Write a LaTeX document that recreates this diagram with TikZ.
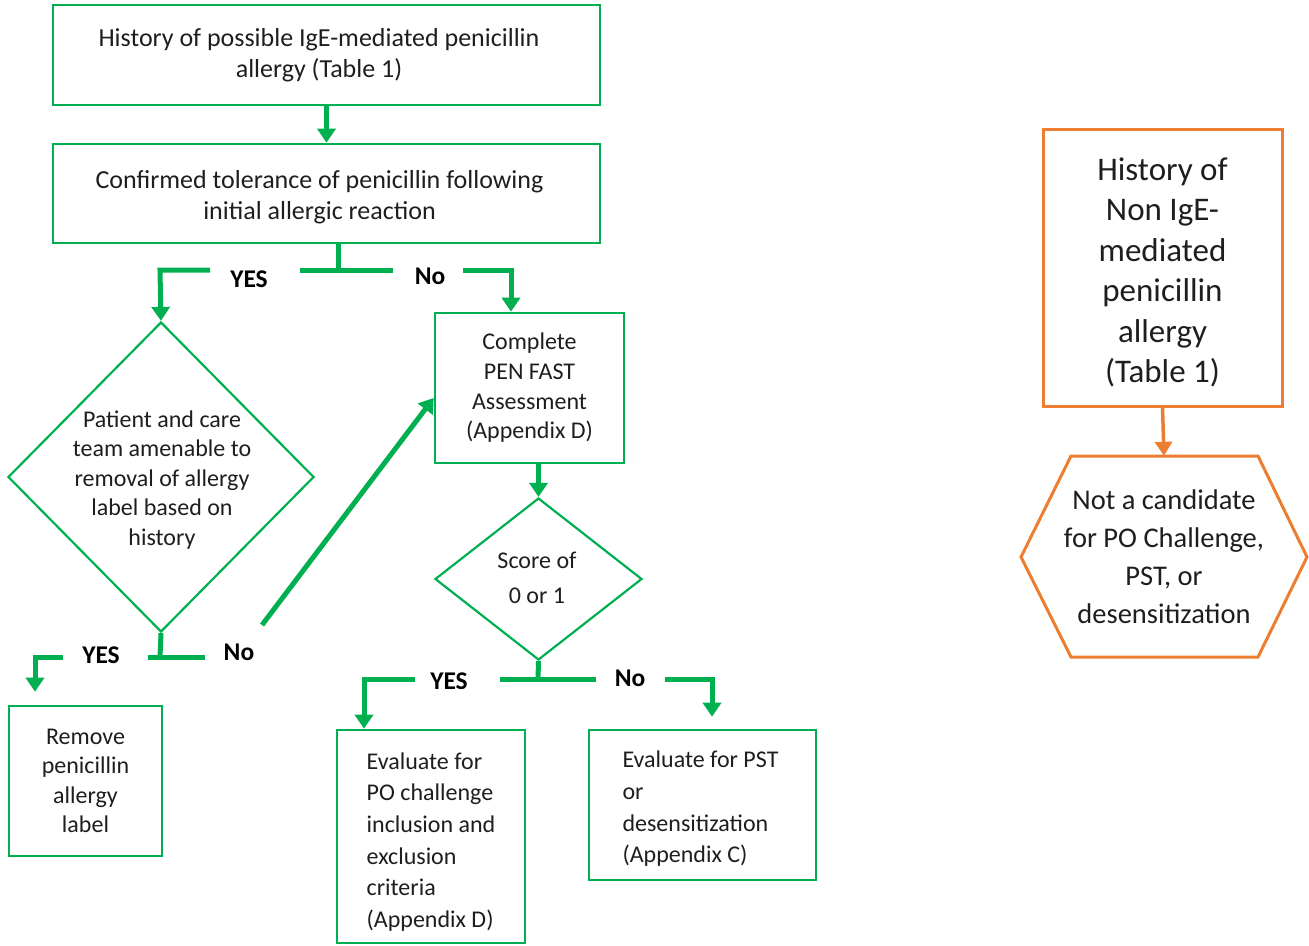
\documentclass[tikz,border=0pt]{standalone}
\usepackage{fontspec}
\setmainfont{Carlito}
\usetikzlibrary{arrows.meta,shapes.geometric,calc}
\definecolor{gr}{RGB}{0,176,80}
\definecolor{org}{RGB}{237,125,49}
\definecolor{txt}{RGB}{30,30,30}
\begin{document}
\begin{tikzpicture}[x=1pt,y=-1pt,
  gbox/.style={draw=gr, line width=2.6pt, inner sep=0pt, text=txt, align=center,
               font=\fontsize{24}{29.7}\selectfont},
  btext/.style={text=txt, inner sep=0pt, align=center, font=\fontsize{26}{31}\selectfont},
  ltext/.style={text=txt, inner sep=0pt, font=\fontsize{24}{31.6}\selectfont},
  gdia/.style={diamond, draw=gr, line width=2.2pt, inner sep=0pt},
  dtext/.style={text=txt, align=center, font=\fontsize{24}{29.5}\selectfont},
  gline/.style={draw=gr, line width=5pt},
  garrow/.style={gline, -{Triangle[length=14pt,width=18pt]}},
  lbl/.style={text=black, font=\fontsize{25.5}{28}\bfseries\selectfont, inner sep=0pt},
  obox/.style={draw=org, line width=3pt, inner sep=0pt},
  oarrow/.style={draw=org, line width=3.5pt, -{Triangle[length=14pt,width=17pt]}}
]
\useasboundingbox (0,0) rectangle (1309,945);

% green boxes
\node[gbox, minimum width=547, minimum height=100] (b1) at (326.5,55) {};
\node[btext] (b1t) at (319,55) {History of possible IgE-mediated penicillin\\allergy (Table 1)};
\node[gbox, minimum width=547, minimum height=99] (b2) at (326.5,193.5) {};
\node[btext] (b2t) at (319.5,197) {Confirmed tolerance of penicillin following\\initial allergic reaction};
\node[gbox, minimum width=189, minimum height=150] (b3) at (529.5,388)
  {Complete\\PEN FAST\\Assessment\\(Appendix D)};
\node[gbox, minimum width=153, minimum height=150, font=\fontsize{24}{29.4}\selectfont] (b4) at (85.5,781)
  {Remove\\penicillin\\allergy\\label};
\node[gbox, minimum width=188, minimum height=213] (b5) at (431,836.5) {};
\node[ltext] (b5t) at (431,842)
  {\begin{tabular}{@{}l@{}}Evaluate for\\PO challenge\\inclusion and\\exclusion\\criteria\\(Appendix D)\end{tabular}};
\node[gbox, minimum width=227, minimum height=150] (b6) at (702.5,805) {};
\node[ltext] (b6t) at (700.5,809)
  {\begin{tabular}{@{}l@{}}Evaluate for PST\\or\\desensitization\\(Appendix C)\end{tabular}};

% diamonds
\node[gdia, minimum width=306, minimum height=310] (d1) at (161,477) {};
\node[dtext] (d1t) at (162,480) {Patient and care\\team amenable to\\removal of allergy\\label based on\\history};
\node[gdia, minimum width=207, minimum height=162] (d2) at (538.5,579) {};
\node[dtext, font=\fontsize{24}{35}\selectfont] (d2t) at (537,578) {Score of\\0 or 1};

% connectors
\draw[garrow] (b1.south) -- (b2.north);

% first decision (after b2)
\coordinate (j1) at (338,270);
\coordinate (t1l) at (300,270);
\coordinate (t1r) at (393,270);
\coordinate (a1) at (210,270);
\coordinate (c1) at (160,270);
\coordinate (a2) at (463,270);
\coordinate (c2) at (511,270);
\draw[gline] (j1 |- b2.south) -- (j1);
\draw[gline] (t1l) -- (t1r);
\draw[garrow] (a1) -- (c1) -- (d1.north);
\draw[garrow] (a2) -- (c2) -- (c2 |- b3.north);
\node[lbl] (y1) at (249,279) {YES};
\node[lbl] (n1) at (430,276) {No};

% second decision (after d1)
\coordinate (j2) at (160,657);
\coordinate (t2l) at (148,657);
\coordinate (t2r) at (205,657);
\coordinate (a3) at (63,657);
\coordinate (c3) at (35,657);
\coordinate (c5) at (262,625);
\draw[gline] (d1.south) -- (j2);
\draw[gline] (t2l) -- (t2r);
\draw[garrow, shorten >=13pt] (a3) -- (c3) -- (c3 |- b4.north);
\node[lbl] (y2) at (101,655) {YES};
\node[lbl] (n2) at (239,652) {No};
\draw[garrow] (c5) -- ($(b3.west)+(0,10)$);

\draw[garrow] (d2.north |- b3.south) -- (d2.north);

% third decision (after d2)
\coordinate (j3) at (538,679);
\coordinate (t3l) at (500,679);
\coordinate (t3r) at (596,679);
\coordinate (a4) at (415,679);
\coordinate (c6) at (364,679);
\coordinate (a5) at (665,679);
\coordinate (c7) at (712,679);
\draw[gline] (d2.south) -- (j3);
\draw[gline] (t3l) -- (t3r);
\draw[garrow] (a4) -- (c6) -- (c6 |- b5.north);
\draw[garrow, shorten >=12pt] (a5) -- (c7) -- (c7 |- b6.north);
\node[lbl] (y3) at (449,681) {YES};
\node[lbl] (n3) at (630,678) {No};

% orange part
\node[obox, minimum width=239, minimum height=277] (ob) at (1162.5,267.5) {};
\node[text=txt, align=center, inner sep=0pt, font=\fontsize{33}{40.5}\selectfont] (obt) at (1162.5,272.5)
  {History of\\Non IgE-\\mediated\\penicillin\\allergy\\(Table 1)};
\node[text=txt, align=center, minimum height=202, inner sep=0pt,
      font=\fontsize{28.5}{38}\selectfont] (hex) at (1164,557)
  {Not a candidate\\for PO Challenge,\\PST, or\\desensitization};
\draw[draw=org, line width=3pt, line join=miter]
  (1071,456) -- (1258,456) -- (1307,557) -- (1258,657) -- (1071,657) -- (1021,557) -- cycle;
\draw[oarrow] (ob.south) -- (hex.north);
\end{tikzpicture}
\end{document}
